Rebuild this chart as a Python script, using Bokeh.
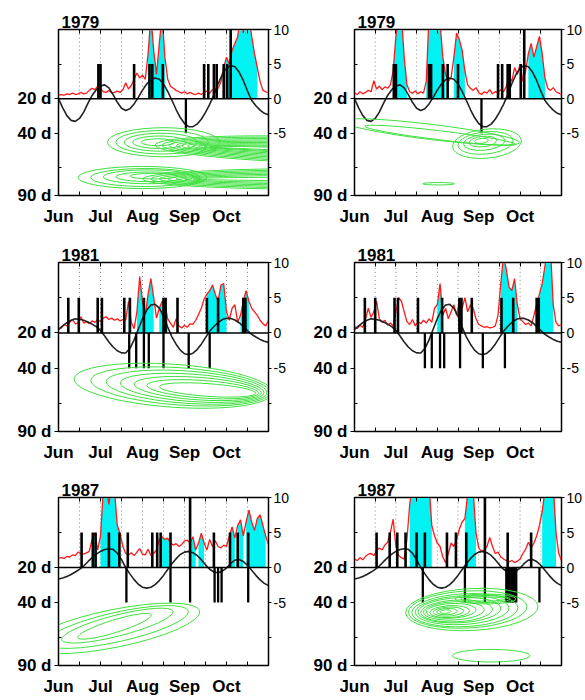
from bokeh.plotting import figure
from bokeh.models import Range1d, LinearAxis, FixedTicker, Span, Title
from bokeh.layouts import gridplot
from bokeh.embed import file_html
from bokeh.resources import INLINE

# ---------------- axes / ticks ----------------
RED_DAYS = list(range(0, 151, 2))      # day after 1 June, sampled every 2 days
OSC_DAYS = list(range(0, 151, 3))      # filtered oscillation, every 3 days
TICK_DAYS = list(range(0, 151, 15))
MONTH_DAYS = [0, 30, 60, 90, 120]
MONTH_NAMES = ["Jun", "Jul", "Aug", "Sep", "Oct"]
LEFT_TICKS = [0, -5, -14]
LEFT_NAMES = ["20 d", "40 d", "90 d"]
LEFT_MINOR = [-10, 5, 10]
RIGHT_TICKS = [10, 5, 0, -5]
RIGHT_NAMES = ["10", "5", "0", "-5"]
RIGHT_MINOR = [-10]
X_MIN, X_MAX = 0, 150
Y_MIN, Y_MAX = -14, 10
BAR_UP, BAR_TALL, BAR_DOWN = 5, 10, -5

# ---------------- filtered oscillation (black curve) ----------------
osc_1979 = [0.0, -1.34, -2.45, -3.14, -3.28, -2.86, -1.94, -0.69, 0.47, 1.30,
            1.85, 1.99, 1.55, 0.58, -0.53, -1.38, -1.70, -1.45, -0.76, 0.18,
            1.23, 2.12, 2.74, 2.99, 2.81, 2.12, 1.05, -0.23, -1.57, -2.73,
            -3.59, -4.04, -4.05, -3.68, -2.97, -1.99, -0.82, 0.56, 2.15, 3.49,
            4.41, 4.79, 4.60, 3.85, 2.63, 1.10, -0.26, -1.02, -1.66, -2.12,
            -2.33]
osc_1981 = [0.5, 1.0, 1.45, 1.8, 2.0, 1.95, 1.8, 1.55, 1.25, 0.9,
            0.35, -0.44, -1.28, -2.0, -2.53, -2.84, -2.86, -2.22, -0.99, 0.53,
            2.05, 3.25, 3.96, 4.06, 3.51, 2.37, 0.83, -0.56, -1.60, -2.44,
            -2.96, -3.10, -2.88, -2.36, -1.60, -0.67, 0.24, 0.91, 1.48, 1.89,
            2.09, 2.06, 1.83, 1.45, 0.92, 0.32, -0.20, -0.58, -0.92, -1.18,
            -1.34]
osc_1987 = [-1.65, -1.51, -1.29, -1.0, -0.65, -0.27, 0.21, 0.83, 1.41, 1.91,
            2.30, 2.57, 2.69, 2.59, 2.04, 1.12, 0.0, -0.91, -1.73, -2.39,
            -2.81, -2.95, -2.82, -2.45, -1.87, -1.13, -0.29, 0.53, 1.26, 1.85,
            2.20, 2.30, 2.12, 1.72, 1.12, 0.38, -0.25, -0.64, -0.75, -0.53,
            -0.08, 0.58, 1.05, 1.13, 0.85, 0.32, -0.38, -1.12, -1.77, -2.27,
            -2.59]

# ---------------- daily index (red) ----------------
red_1979_a = [0.5, 0.6, 0.5, 0.7, 0.6, 0.8, 0.6, 0.7, 0.9, 0.7,
              0.8, 1.2, 1.5, 1.3, 1.8, 1.4, 1.0, 0.9, 1.2, 0.8,
              0.9, 1.1, 0.9, 1.3, 2.3, 1.4, 1.9, 2.8, 3.7, 3.0,
              3.4, 2.8, 6.5, 12, 7.0, 3.5, 8.0, 12, 6.0, 2.8,
              1.8, 1.5, 1.2, 1.0, 0.8, 1.0, 0.7, 0.9, 0.7, 0.6,
              0.8, 0.6, 0.9, 1.1, 0.8, 1.3, 1.0, 1.5, 2.4, 4.5,
              6.0, 5.0, 7.0, 8.0, 9.0, 12, 9.5, 12, 12, 9.0,
              6.5, 4.5, 2.5, 1.2, 1.0, 0.8]
red_1979_b = [0.8, 0.6, 1.0, 0.7, 0.9, 1.2, 1.0, 2.6, 1.4, 1.8,
              1.3, 1.7, 1.5, 2.0, 4.0, 9.0, 12, 12, 6.0, 2.0,
              1.0, 0.8, 1.1, 0.7, 1.0, 0.8, 2.5, 12, 12, 11,
              12, 11, 6.0, 3.5, 2.5, 3.0, 6.0, 9.5, 8.5, 7.0,
              4.0, 2.0, 1.5, 1.2, 1.6, 0.9, 0.6, 1.0, 0.8, 1.3,
              0.7, 1.0, 0.9, 1.3, 1.0, 1.8, 3.2, 2.5, 4.5, 3.5,
              5.0, 2.5, 4.0, 6.5, 8.0, 6.0, 7.5, 9.0, 6.5, 3.0,
              1.5, 1.2, 1.6, 1.0, 0.8, 0.6]
red_1981_a = [0.5, 0.7, 1.2, 1.0, 1.5, 1.9, 1.3, 1.4, 2.3, 1.4,
              1.6, 1.3, 1.7, 1.5, 1.9, 1.6, 2.1, 2.3, 1.9, 2.1,
              1.8, 2.0, 1.7, 1.9, 1.8, 4.5, 1.5, 0.6, 3.0, 8.0,
              4.5, 2.6, 5.5, 7.7, 5.0, 2.1, 3.5, 4.5, 4.2, 2.0,
              1.4, 0.8, 2.0, 1.0, 0.7, 1.1, 0.8, 1.3, 1.2, 1.8,
              2.6, 3.5, 4.8, 5.5, 6.0, 6.8, 5.5, 4.5, 6.8, 7.0,
              3.0, 1.8, 3.5, 4.0, 1.5, 2.5, 4.5, 6.0, 4.5, 3.5,
              3.0, 2.5, 1.8, 1.3, 1.0, 1.8]
red_1981_b = [0.9, 0.6, 1.1, 0.8, 2.0, 3.5, 2.2, 3.0, 4.5, 2.0,
              1.5, 1.8, 1.1, 1.4, 1.0, 3.0, 5.0, 4.5, 3.0, 1.6,
              1.2, 1.9, 1.0, 1.6, 1.3, 1.8, 1.4, 2.0, 1.5, 3.5,
              4.0, 7.0, 2.5, 3.5, 2.0, 3.0, 4.0, 2.5, 4.5, 3.5,
              5.0, 3.0, 4.0, 3.5, 2.0, 1.2, 1.0, 0.8, 0.9, 0.7,
              0.8, 1.0, 2.5, 7.0, 11, 9.0, 6.5, 6.0, 7.7, 4.0,
              2.0, 1.6, 1.2, 1.4, 1.0, 2.5, 4.0, 5.5, 7.0, 9.5,
              12, 12, 4.0, 1.5, 1.0, 1.2]
red_1987_a = [1.3, 1.4, 1.3, 1.6, 1.5, 1.8, 1.7, 2.2, 2.0, 1.9,
              2.1, 2.3, 4.0, 4.9, 2.5, 4.5, 11, 12, 9.0, 12,
              11, 6.0, 4.8, 3.0, 2.0, 1.8, 2.1, 1.7, 2.2, 2.7,
              1.9, 1.8, 2.6, 1.7, 2.0, 2.5, 4.0, 4.4, 4.0, 4.2,
              3.5, 3.2, 3.4, 3.0, 3.3, 3.8, 3.9, 3.5, 4.4, 2.5,
              3.5, 4.9, 3.5, 2.5, 4.0, 3.0, 3.8, 3.0, 2.8, 3.2,
              3.0, 4.5, 5.8, 4.2, 6.0, 6.8, 4.5, 6.5, 8.2, 6.5,
              5.3, 7.0, 7.5, 6.0, 4.5, 3.2]
red_1987_b = [1.2, 1.0, 1.4, 1.1, 1.6, 1.9, 2.0, 1.7, 2.4, 2.8,
              2.5, 3.2, 3.6, 5.0, 6.9, 3.0, 1.7, 1.4, 1.2, 4.0,
              9.0, 12, 12, 12, 12, 12, 12, 12, 6.0, 4.5,
              3.5, 3.0, 1.5, 0.7, 2.0, 3.5, 3.0, 4.0, 5.5, 6.5,
              7.0, 10.5, 12, 11, 5.0, 2.8, 2.3, 2.5, 3.0, 4.3,
              3.0, 2.0, 2.2, 1.5, 1.2, 1.0, 0.8, 1.0, 0.7, 0.9,
              1.2, 2.0, 2.6, 3.6, 2.8, 3.5, 4.5, 6.0, 8.0, 11,
              12, 12, 12, 5.0, 2.0, 1.0]

# ---------------- shaded (cyan) spells: first and last day ----------------
cyan_1979_a = [(64, 76), (118, 142)]
cyan_1979_b = [(28, 38), (52, 66), (72, 80), (126, 138)]
cyan_1981_a = [(50, 52), (56, 68), (72, 78), (106, 120), (130, 136)]
cyan_1981_b = [(60, 64), (106, 118), (134, 144)]
cyan_1987_a = [(24, 26), (30, 44), (72, 80), (94, 98), (100, 104),
               (122, 126), (128, 132), (134, 148)]
cyan_1987_b = [(40, 56), (80, 88), (136, 146)]

# ---------------- event bars (day) ----------------
up_1979_a = [28.5, 30, 54, 65, 67, 74.5, 104, 107, 111, 113, 118, 120.5]
tall_1979_a = [123]
down_1979_a = [91]
up_1979_b = [28.5, 30, 54, 55.5, 64, 67.5, 75, 104, 107, 111, 112.5, 120.5]
tall_1979_b = [123]
down_1979_b = [92]
up_1981_a = [7, 14.5, 28, 31, 47, 51, 61, 75, 76.5, 85, 106, 114, 132, 133.5]
tall_1981_a = []
down_1981_a = [50.5, 55.5, 61, 64.5, 75, 93, 108]
up_1981_b = [7.5, 15, 29, 31.5, 46, 63.5, 76, 77.5, 85, 106.5, 115, 132, 133.5]
tall_1981_b = []
down_1981_b = [51, 56, 62, 65, 76.5, 93, 109]
up_1987_a = [16.5, 24.5, 26.5, 36, 43.5, 49.5, 67, 70.5, 73, 80, 111, 122.5, 128, 135.5]
tall_1987_a = [94]
down_1987_a = [48.5, 80, 94, 111.5, 114, 116.5, 135.5]
up_1987_b = [16, 25.5, 31, 37, 45, 51, 67, 73.5, 81, 111, 128]
tall_1987_b = [94.5]
down_1987_b = [49.5, 80, 94.5, 110, 111.2, 112.4, 113.6, 114.8, 116, 117.2, 134]

# ---------------- wavelet-power contours: rings (x, y, width, height, angle) ----------------
ring_x_1979_a = [75, 74, 73, 72, 71,
                 185, 185, 185, 185, 185, 185, 185, 185, 185, 185,
                 60, 62, 64, 66, 68,
                 185, 185, 185, 185, 185, 185, 185]
ring_y_1979_a = [-6.3, -6.3, -6.3, -6.3, -6.3,
                 -7.4, -7.4, -7.4, -7.4, -7.4, -7.4, -7.4, -7.4, -7.4, -7.4,
                 -11.4, -11.4, -11.3, -11.3, -11.2,
                 -11.6, -11.6, -11.6, -11.6, -11.6, -11.6, -11.6]
ring_w_1979_a = [80, 66, 52, 38, 24,
                 232, 222, 212, 202, 194, 186, 178, 170, 162, 154,
                 92, 78, 64, 50, 34,
                 250, 238, 226, 214, 202, 190, 178]
ring_h_1979_a = [4.2, 3.4, 2.6, 1.8, 1.0,
                 3.8, 3.4, 3.0, 2.6, 2.2, 1.8, 1.4, 1.0, 0.7, 0.4,
                 3.2, 2.6, 2.0, 1.4, 0.8,
                 3.0, 2.6, 2.2, 1.8, 1.4, 1.0, 0.5]
ring_a_1979_a = [0.0] * 5 + [-0.03] * 10 + [0.0] * 5 + [0.0] * 7

ring_x_1979_b = [55, 62, 96, 95, 94, 93, 92, 61]
ring_y_1979_b = [-4.8, -5.3, -6.5, -6.4, -6.3, -6.2, -6.1, -12.3]
ring_w_1979_b = [130, 110, 50, 40, 30, 20, 10, 23]
ring_h_1979_b = [2.2, 1.3, 4.2, 3.2, 2.3, 1.5, 0.7, 0.35]
ring_a_1979_b = [-0.12, -0.12, 0.1, 0.1, 0.1, 0.1, 0.1, 0.0]

ring_x_1981_a = [82, 87, 91.5, 95.5, 99.5, 103, 106.5]
ring_y_1981_a = [-7.5, -7.6, -7.7, -7.8, -7.9, -8.0, -8.1]
ring_w_1981_a = [142, 128, 115, 103, 91, 80, 69]
ring_h_1981_a = [6.1, 5.3, 4.6, 3.9, 3.2, 2.5, 1.8]
ring_a_1981_a = [-0.07] * 7

ring_x_1981_b = []
ring_y_1981_b = []
ring_w_1981_b = []
ring_h_1981_b = []
ring_a_1981_b = []

ring_x_1987_a = [40, 42, 42, 40]
ring_y_1987_a = [-8.7, -8.5, -8.3, -8.4]
ring_w_1987_a = [124, 104, 82, 55]
ring_h_1987_a = [5.4, 4.2, 3.0, 1.8]
ring_a_1987_a = [0.2, 0.22, 0.25, 0.3]

ring_x_1987_b = [85, 82, 80, 78, 76, 74, 72, 70, 69, 68, 67, 66, 95, 95, 95, 99]
ring_y_1987_b = [-6.0, -6.0, -6.1, -6.1, -6.1, -6.2, -6.2, -6.2, -6.3, -6.3, -6.3, -6.3,
                 -4.5, -4.5, -4.5, -12.6]
ring_w_1987_b = [96, 86, 77, 68, 60, 52, 44, 36, 29, 22, 15, 8, 44, 36, 28, 56]
ring_h_1987_b = [6.0, 5.3, 4.7, 4.1, 3.6, 3.1, 2.6, 2.1, 1.7, 1.3, 0.9, 0.5, 1.4, 1.0, 0.6, 1.8]
ring_a_1987_b = [0.05] * 12 + [0.0] * 4

FONT = "Liberation Sans"
GREEN = "#3fe03f"


def panel(year, red, osc, cyan, up, tall, down, rings, width, height, bl, br, bt, bb):
    p = figure(width=width, height=height,
               x_range=Range1d(X_MIN, X_MAX), y_range=Range1d(Y_MIN, Y_MAX),
               output_backend="svg", toolbar_location=None,
               min_border_left=bl, min_border_right=br,
               min_border_top=bt, min_border_bottom=bb)
    p.title = Title(text=year, align="left", offset=3, standoff=4,
                    text_font=FONT, text_font_style="bold", text_font_size="17px",
                    text_color="black")
    p.xgrid.visible = False
    p.ygrid.visible = False
    p.outline_line_color = "black"
    p.outline_line_width = 1.5
    p.background_fill_color = "white"
    p.border_fill_color = "white"

    xb = p.xaxis[0]
    xb.ticker = FixedTicker(ticks=MONTH_DAYS,
                            minor_ticks=[d for d in TICK_DAYS if d not in MONTH_DAYS])
    xb.major_label_overrides = dict(zip(MONTH_DAYS, MONTH_NAMES))
    xb.major_tick_in = 4
    xb.major_tick_out = 0
    xb.minor_tick_in = 4
    xb.minor_tick_out = 0
    xb.minor_tick_line_color = "black"
    xb.major_label_standoff = 11
    xb.major_label_text_font = FONT
    xb.major_label_text_font_style = "bold"
    xb.major_label_text_font_size = "17px"
    xb.major_label_text_color = "black"

    yl = p.yaxis[0]
    yl.ticker = FixedTicker(ticks=LEFT_TICKS, minor_ticks=LEFT_MINOR)
    yl.major_label_overrides = dict(zip(LEFT_TICKS, LEFT_NAMES))
    yl.major_tick_in = 0
    yl.major_tick_out = 4
    yl.minor_tick_in = 3
    yl.minor_tick_out = 0
    yl.minor_tick_line_color = "black"
    yl.major_label_standoff = 3
    yl.major_label_text_font = FONT
    yl.major_label_text_font_style = "bold"
    yl.major_label_text_font_size = "17px"
    yl.major_label_text_color = "black"

    xt = LinearAxis(ticker=FixedTicker(ticks=[], minor_ticks=TICK_DAYS),
                    minor_tick_in=4, minor_tick_out=0, minor_tick_line_color="black",
                    major_label_standoff=0)
    p.add_layout(xt, "above")

    yr = LinearAxis(ticker=FixedTicker(ticks=RIGHT_TICKS, minor_ticks=RIGHT_MINOR),
                    major_tick_in=0, major_tick_out=3, minor_tick_in=0, minor_tick_out=3,
                    minor_tick_line_color="black", major_label_standoff=2,
                    major_label_text_font=FONT, major_label_text_font_size="14px",
                    major_label_text_color="black")
    yr.major_label_overrides = dict(zip(RIGHT_TICKS, RIGHT_NAMES))
    p.add_layout(yr, "right")

    # dotted half-month guides in the upper panel
    guides = TICK_DAYS[1:-1]
    p.segment(x0=guides, y0=0, x1=guides, y1=Y_MAX, line_color="#8a8a8a",
              line_dash="1 3", line_width=1)

    # cyan spells under the red index
    for a, b in cyan:
        xs = [d for d in RED_DAYS if a <= d <= b]
        ys = [v for d, v in zip(RED_DAYS, red) if a <= d <= b]
        p.varea(x=xs, y1=0, y2=ys, fill_color="#00f2f2")

    p.line(RED_DAYS, red, line_color="#ff1a1a", line_width=1.3)
    p.add_layout(Span(location=0, dimension="width", line_color="black", line_width=1.5))
    p.line(OSC_DAYS, osc, line_color="#222222", line_width=1.6)

    if up:
        p.segment(x0=up, y0=0, x1=up, y1=BAR_UP, line_color="black", line_width=2.6)
    if tall:
        p.segment(x0=tall, y0=0, x1=tall, y1=BAR_TALL, line_color="black", line_width=2.6)
    if down:
        p.segment(x0=down, y0=0, x1=down, y1=BAR_DOWN, line_color="black", line_width=2.3)

    rx, ry, rw, rh, ra = rings
    if rx:
        p.ellipse(x=rx, y=ry, width=rw, height=rh, angle=ra, fill_color=None,
                  line_color=GREEN, line_width=1)
    return p


ROWS = [(238, 29, 43), (235, 24, 42), (227, 24, 35)]
COLS = [(300, 58, 32), (285, 54, 23)]

panels_spec = [
    [("1979", red_1979_a, osc_1979, cyan_1979_a, up_1979_a, tall_1979_a, down_1979_a,
      (ring_x_1979_a, ring_y_1979_a, ring_w_1979_a, ring_h_1979_a, ring_a_1979_a)),
     ("1979", red_1979_b, osc_1979, cyan_1979_b, up_1979_b, tall_1979_b, down_1979_b,
      (ring_x_1979_b, ring_y_1979_b, ring_w_1979_b, ring_h_1979_b, ring_a_1979_b))],
    [("1981", red_1981_a, osc_1981, cyan_1981_a, up_1981_a, tall_1981_a, down_1981_a,
      (ring_x_1981_a, ring_y_1981_a, ring_w_1981_a, ring_h_1981_a, ring_a_1981_a)),
     ("1981", red_1981_b, osc_1981, cyan_1981_b, up_1981_b, tall_1981_b, down_1981_b,
      (ring_x_1981_b, ring_y_1981_b, ring_w_1981_b, ring_h_1981_b, ring_a_1981_b))],
    [("1987", red_1987_a, osc_1987, cyan_1987_a, up_1987_a, tall_1987_a, down_1987_a,
      (ring_x_1987_a, ring_y_1987_a, ring_w_1987_a, ring_h_1987_a, ring_a_1987_a)),
     ("1987", red_1987_b, osc_1987, cyan_1987_b, up_1987_b, tall_1987_b, down_1987_b,
      (ring_x_1987_b, ring_y_1987_b, ring_w_1987_b, ring_h_1987_b, ring_a_1987_b))],
]

grid = []
for (h, bt, bb), row_spec in zip(ROWS, panels_spec):
    row = []
    for (w, bl, br), spec in zip(COLS, row_spec):
        row.append(panel(*spec, width=w, height=h, bl=bl, br=br, bt=bt, bb=bb))
    grid.append(row)

layout = gridplot(grid, toolbar_location=None)
open("out.html", "w").write(file_html(layout, INLINE))
